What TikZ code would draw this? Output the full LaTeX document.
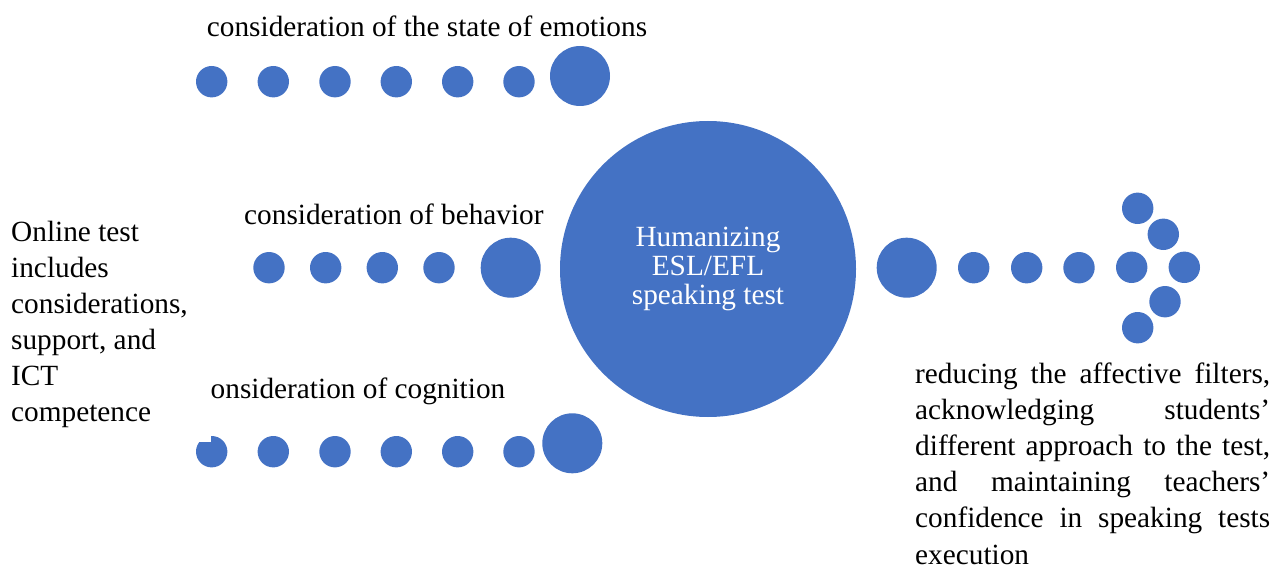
\documentclass[tikz,border=0pt]{standalone}
\usepackage{fontspec}
\setmainfont{Liberation Serif}
\definecolor{obl}{HTML}{4472C4}
\begin{document}
\begin{tikzpicture}[x=1pt,y=-1pt,
 smalldot/.style={circle,fill=obl,inner sep=0pt,minimum size=31.4pt},
 bigdot/.style={circle,fill=obl,inner sep=0pt,minimum size=60pt},
 lbl/.style={anchor=base west,inner sep=0pt,font=\fontsize{29.3}{36.2}\selectfont}]
\useasboundingbox (0,0) rectangle (1278,567);
% central circle
\node[circle,fill=obl,inner sep=0pt,minimum size=296pt,text=white,align=center,
  font=\fontsize{29.3}{29.2}\selectfont] (hub) at (708,269)
  {Humanizing\\ESL/EFL\\speaking test};
% top row
\foreach \x [count=\i] in {211.7,273.3,335,396.3,457.7,519}
  \node[smalldot] (e\i) at (\x,81.7) {};
\node[bigdot] (eb) at (580,76) {};
\node[lbl] (elbl) at (206.7,36.3) {consideration of the state of emotions};
% middle row
\foreach \x [count=\i] in {269,325.7,382.3,439}
  \node[smalldot] (b\i) at (\x,267.7) {};
\node[bigdot] (bb) at (510.7,267.7) {};
\node[lbl] (blbl) at (244,225) {consideration of behavior};
% bottom row
\foreach \x [count=\i] in {211.7,273.3,335,396.3,457.7,519}
  \node[smalldot] (c\i) at (\x,451.7) {};
\node[bigdot] (cb) at (572.3,443.3) {};
\node[lbl] (clbl) at (197.5,398.3) {consideration of cognition};
% right side
\node[bigdot] (rb) at (906.7,267.7) {};
\foreach \x [count=\i] in {973.7,1026.7,1079}
  \node[smalldot] (r\i) at (\x,267.7) {};
\node[smalldot] (a1) at (1137.7,208.3) {};
\node[smalldot] (a2) at (1163.3,234.3) {};
\node[smalldot] (a3) at (1131.7,267.3) {};
\node[smalldot] (a4) at (1184.3,267.3) {};
\node[smalldot] (a5) at (1165,301.7) {};
\node[smalldot] (a6) at (1137.7,327.7) {};
% left text box (white, overlaps)
\fill[white] (0,200) rectangle (210.7,441.7);
\node[lbl] (ltxt) at (11,241.5) {\parbox[t]{195pt}{\raggedright\fontsize{29.3}{36}\selectfont
  Online test\\includes\\considerations,\\support, and\\ICT\\competence}};
% right text
\node[lbl] (rtxt) at (915,383.5) {\parbox[t]{355pt}{\fontsize{29.3}{36.1}\selectfont
  reducing the affective filters,\linebreak acknowledging students’\linebreak
  different approach to the test,\linebreak and maintaining teachers’\linebreak
  confidence in speaking tests\linebreak execution}};
\end{tikzpicture}
\end{document}
